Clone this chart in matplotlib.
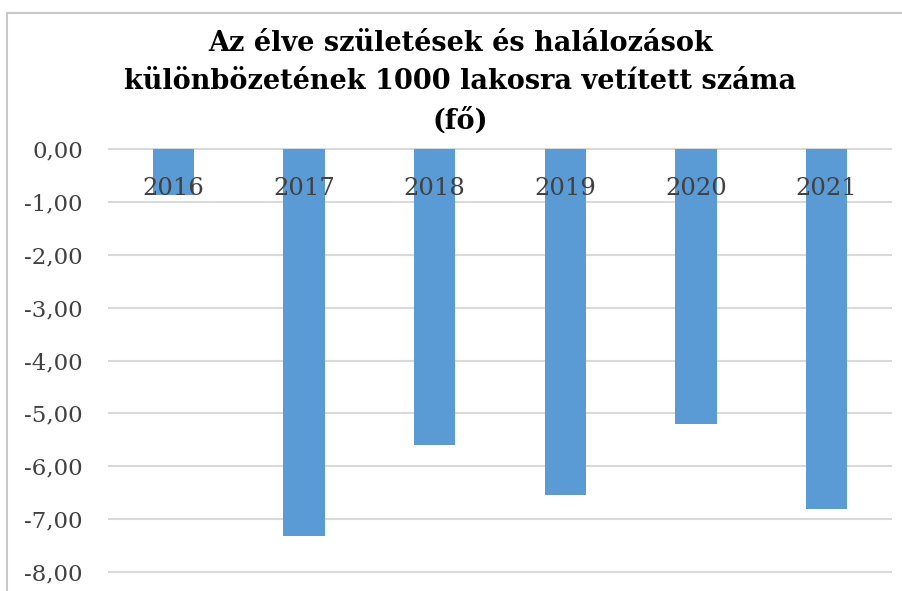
import numpy as np
import matplotlib
matplotlib.use("Agg")
import matplotlib.pyplot as plt
from matplotlib.lines import Line2D
from matplotlib.ticker import FuncFormatter

# data
years = ["2016", "2017", "2018", "2019", "2020", "2021"]
values = [-0.86, -7.31, -5.59, -6.55, -5.21, -6.80]
y_ticks = [0, -1, -2, -3, -4, -5, -6, -7, -8]

title = "Az élve születések és halálozások\nkülönbözetének 1000 lakosra vetített száma\n(fő)"

bar_color = "#5B9BD5"
text_color = "#404040"
grid_color = "#D9D9D9"

plt.rcParams['font.family'] = ['DejaVu Serif']

W, H = 903, 591
fig = plt.figure(figsize=(W / 100, H / 100), dpi=100)
ax = fig.add_axes([108 / W, 0.0277, (892 - 108) / W, 0.7246])

x = np.arange(len(years))
ax.bar(x, values, width=0.314, color=bar_color, zorder=2)

ax.set_xlim(-0.5, len(years) - 0.5)
ax.set_ylim(-8.05, 0.05)
ax.set_yticks(y_ticks)
ax.yaxis.set_major_formatter(FuncFormatter(lambda v, p: ("%.2f" % v).replace(".", ",").replace("-0,00", "0,00")))
ax.tick_params(axis='y', length=0, pad=18, labelsize=16.5, labelcolor=text_color)
ax.set_xticks([])
ax.grid(axis='y', color=grid_color, linewidth=1.5, zorder=0)
for s in ax.spines.values():
    s.set_visible(False)

# year labels sit just under the zero line, on top of the bars
for i, yr in enumerate(years):
    ax.text(i, -0.74, yr, ha='center', va='center', fontsize=17.5,
            color=text_color, zorder=3)

fig.text(0.51, 1 - 82 / H, title, ha='center', va='center', fontsize=19.5,
         fontweight='bold', color='black', linespacing=1.55)

# light chart frame (top and left edge)
fig.add_artist(Line2D([7 / W, 7 / W], [0, 1 - 13 / H], color='#C8C8C8', lw=1.5,
                      transform=fig.transFigure))
fig.add_artist(Line2D([7 / W, 1], [1 - 13 / H, 1 - 13 / H], color='#C8C8C8', lw=1.5,
                      transform=fig.transFigure))

fig.savefig("out.png", dpi=100)
